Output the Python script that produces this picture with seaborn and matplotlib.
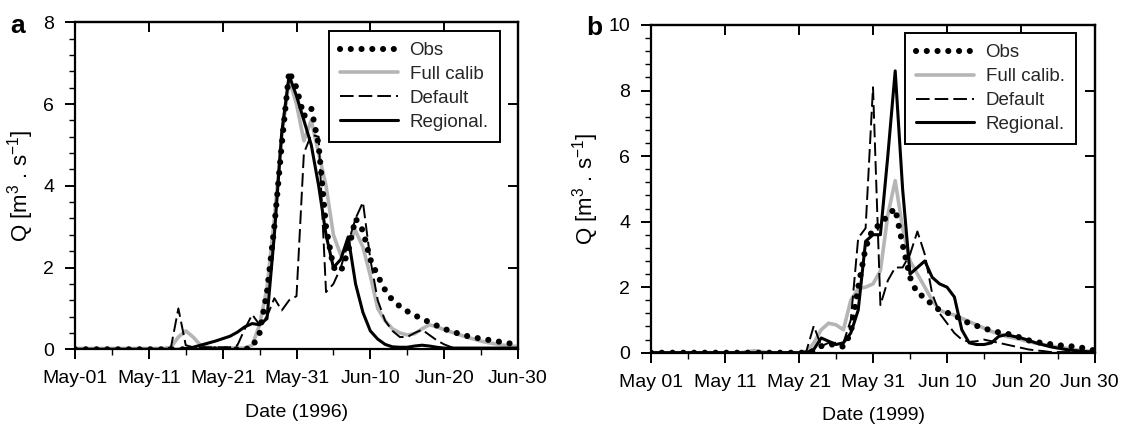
import numpy as np
import pandas as pd
import matplotlib
matplotlib.use("Agg")
import matplotlib.pyplot as plt
import matplotlib.transforms as mtransforms
import seaborn as sns
from matplotlib.ticker import MultipleLocator, FixedLocator

sns.set_theme(style="ticks")
plt.rcParams['font.family'] = ['Liberation Sans', 'DejaVu Sans']
plt.rcParams['mathtext.fontset'] = 'custom'
plt.rcParams['mathtext.rm'] = 'Liberation Sans'
plt.rcParams['mathtext.it'] = 'Liberation Sans:italic'

# ---------------- data ----------------
days = list(range(61))  # May 01 .. Jun 30

ticks_a = ["May-01", "May-11", "May-21", "May-31", "Jun-10", "Jun-20", "Jun-30"]
ticks_b = ["May 01", "May 11", "May 21", "May 31", "Jun 10", "Jun 20", "Jun 30"]

labels_a = ["Obs", "Full calib", "Default", "Regional."]
labels_b = ["Obs", "Full calib.", "Default", "Regional."]

obs_1996 = [0]*24 + [0.05, 0.4, 1.4, 3.0, 5.0, 6.8, 6.4, 5.7, 5.9, 5.0, 3.0, 2.0, 1.9,
                     2.4, 3.2, 2.9, 2.2, 1.8, 1.45, 1.2, 1.05, 0.93, 0.83, 0.75, 0.66,
                     0.58, 0.5, 0.44, 0.38, 0.33, 0.29, 0.26, 0.23, 0.2, 0.17, 0.14, 0.12]
full_1996 = [0.02]*13 + [0.05, 0.3, 0.45, 0.3, 0.1, 0.05, 0.03, 0.03, 0.03, 0.03, 0.03,
                         0.1, 0.6, 1.5, 3.2, 5.2, 6.6, 6.0, 5.1, 5.6, 4.8, 4.0, 2.8, 2.3,
                         2.6, 2.9, 2.5, 1.8, 1.0, 0.7, 0.5, 0.4, 0.35, 0.38, 0.5, 0.6, 0.55,
                         0.48, 0.42, 0.36, 0.3, 0.25, 0.2, 0.16, 0.13, 0.1, 0.08, 0.07]
default_1996 = [0]*13 + [0.05, 1.0, 0.1, 0.05, 0.05, 0.05, 0.05, 0.05, 0.05, 0.1, 0.5,
                         0.85, 0.6, 0.8, 1.25, 0.95, 1.2, 1.3, 4.8, 5.25, 5.2, 1.4, 1.6,
                         2.0, 2.6, 3.2, 3.6, 2.2, 1.2, 0.7, 0.45, 0.3, 0.3, 0.4, 0.48,
                         0.35, 0.22, 0.12, 0.05] + [0.03]*9
regional_1996 = [0]*15 + [0.02, 0.05, 0.1, 0.15, 0.2, 0.26, 0.32, 0.42, 0.55, 0.63, 0.6,
                          0.75, 2.8, 5.3, 6.7, 6.2, 5.6, 5.0, 4.0, 2.8, 2.0, 2.2, 2.75,
                          1.6, 0.9, 0.45, 0.25, 0.12, 0.06, 0.05, 0.05, 0.08, 0.1, 0.08,
                          0.05] + [0.03]*11

obs_1999 = [0]*22 + [0.05, 0.2, 0.25, 0.25, 0.18, 0.6, 2.0, 3.2, 3.8, 3.9, 4.2, 4.4, 3.3,
                     2.3, 1.8, 1.7, 1.45, 1.3, 1.22, 1.15, 1.0, 0.9, 0.82, 0.74, 0.68,
                     0.62, 0.58, 0.54, 0.45, 0.38, 0.33, 0.29, 0.26, 0.23, 0.21, 0.19,
                     0.16, 0.12, 0.06]
full_1999 = [0]*13 + [0.03, 0.06, 0.03] + [0]*6 + [0.3, 0.7, 0.9, 0.85, 0.7, 1.6, 1.95,
                     2.0, 2.1, 2.5, 4.2, 5.25, 3.8, 2.8, 2.4, 2.0, 1.6, 1.3, 1.2, 1.15,
                     1.05, 0.95, 0.85, 0.75, 0.65, 0.58, 0.5, 0.45, 0.4, 0.34, 0.29,
                     0.25, 0.21, 0.17, 0.14, 0.1, 0.07, 0.05, 0.04]
default_1999 = [0]*21 + [0.05, 0.82, 0.2, 0.3, 0.3, 0.3, 1.0, 3.5, 3.8, 8.1, 1.45, 2.2,
                         2.6, 2.6, 3.0, 3.7, 3.0, 1.8, 1.2, 0.9, 0.6, 0.4, 0.33, 0.35,
                         0.4, 0.35, 0.3, 0.25, 0.2, 0.15, 0.1, 0.07, 0.05] + [0.02]*7
regional_1999 = [0]*22 + [0.1, 0.45, 0.35, 0.25, 0.3, 0.6, 1.3, 3.4, 3.6, 3.6, 6.0, 8.6,
                          5.0, 2.4, 2.6, 2.8, 2.3, 2.1, 2.0, 1.7, 0.7, 0.3, 0.25, 0.25,
                          0.3, 0.5, 0.55, 0.5, 0.45, 0.38, 0.3, 0.24, 0.18, 0.14, 0.1,
                          0.07, 0.05, 0.03, 0.02]

# ---------------- figure ----------------
W, H = 1121, 429
fig = plt.figure(figsize=(W/100, H/100), dpi=100)
fig.patch.set_facecolor("white")

FS = 14
GRAY = "#b5b5b5"


def panel(rect, obs, full, default, regional, labels, ticklabels, ymax, xlabel,
          letter, letter_xy, legend_anchor, last_shift=0):
    ax = fig.add_axes(rect)
    ax.set_facecolor("white")
    sns.lineplot(x=days, y=full, ax=ax, color=GRAY, lw=2.6, label=labels[1], zorder=2)
    sns.lineplot(x=days, y=default, ax=ax, color="black", lw=1.4,
                 linestyle=(0, (7, 2.6)), label=labels[2], zorder=3)
    sns.lineplot(x=days, y=regional, ax=ax, color="black", lw=2.2, label=labels[3], zorder=4)
    sns.lineplot(x=days, y=obs, ax=ax, color="black", lw=4.4,
                 linestyle=(0, (0.01, 1.75)), dash_capstyle="round",
                 label=labels[0], zorder=5)
    ax.set_xlim(0, 60)
    ax.set_ylim(0, ymax)
    ax.xaxis.set_major_locator(FixedLocator([0, 10, 20, 30, 40, 50, 60]))
    ax.set_xticklabels(ticklabels)
    ax.xaxis.set_minor_locator(MultipleLocator(5))
    ax.yaxis.set_major_locator(MultipleLocator(2))
    ax.yaxis.set_minor_locator(MultipleLocator(0.4))
    ax.tick_params(which="major", direction="out", length=7, width=1.4,
                   labelsize=FS, colors="black", pad=8)
    ax.tick_params(which="minor", direction="out", length=4, width=1.0, colors="black")
    for s in ax.spines.values():
        s.set_visible(True)
        s.set_linewidth(1.6)
        s.set_color("black")
    if last_shift:
        lab = ax.get_xticklabels()[-1]
        lab.set_transform(lab.get_transform() +
                          mtransforms.ScaledTranslation(last_shift / 100, 0, fig.dpi_scale_trans))
    # inward ticks on top and right
    top = ax.secondary_xaxis("top")
    top.xaxis.set_major_locator(FixedLocator([10, 20, 30, 40, 50]))
    top.tick_params(direction="in", length=7, width=1.4, labeltop=False, colors="black")
    top.spines["top"].set_linewidth(1.6)
    right = ax.secondary_yaxis("right")
    right.yaxis.set_major_locator(FixedLocator(list(range(2, ymax, 2))))
    right.tick_params(direction="in", length=7, width=1.4, labelright=False, colors="black")
    right.spines["right"].set_linewidth(1.6)

    ax.set_xlabel(xlabel, fontsize=FS, labelpad=12, color="black")
    ax.set_ylabel(r"Q [m$^{3}$ . s$^{-1}$]", fontsize=16, labelpad=5, color="black")

    handles, labs = ax.get_legend_handles_labels()
    order = [labs.index(l) for l in labels]
    leg = ax.legend([handles[i] for i in order], [labs[i] for i in order],
                    loc="upper right", bbox_to_anchor=legend_anchor,
                    bbox_transform=fig.transFigure, borderaxespad=0,
                    fontsize=13.5, frameon=True, fancybox=False, framealpha=1,
                    edgecolor="black", handlelength=3.1, handletextpad=0.6,
                    labelspacing=0.36, borderpad=0.6)
    leg.get_frame().set_linewidth(1.4)
    fig.text(letter_xy[0] / W, 1 - letter_xy[1] / H, letter, fontsize=19,
             fontweight="bold", ha="center", va="center", color="black")
    return ax


panel([75 / W, 1 - 349.3 / H, 443 / W, 327 / H],
      obs_1996, full_1996, default_1996, regional_1996, labels_a, ticks_a, 8,
      "Date (1996)", "a", (18, 26), (500 / W, 1 - 30.7 / H))
panel([651 / W, 1 - 352.7 / H, 444 / W, 327.7 / H],
      obs_1999, full_1999, default_1999, regional_1999, labels_b, ticks_b, 10,
      "Date (1999)", "b", (594, 28), (1076 / W, 1 - 33 / H), last_shift=-6)

fig.savefig("out.png", dpi=100, facecolor="white")
